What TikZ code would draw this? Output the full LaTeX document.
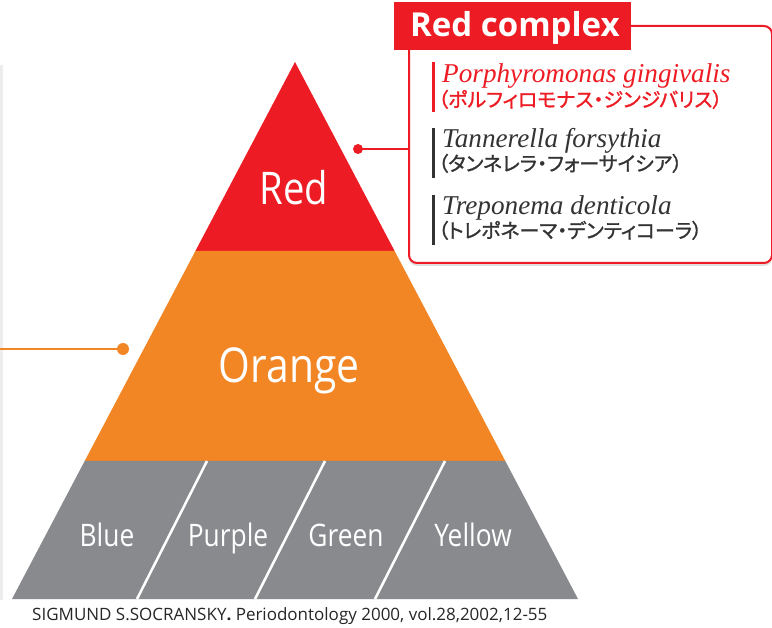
\documentclass[tikz,border=0pt]{standalone}
\usepackage{fontspec}
\setmainfont{Liberation Serif}
\newfontfamily\lab[FakeStretch=0.85]{Open Sans}
\newfontfamily\labb{Open Sans}
\newfontfamily\jp[RawFeature=+palt, FakeBold=1.2]{Noto Sans CJK JP}
\usetikzlibrary{shadows}
\definecolor{cred}{HTML}{ED1C24}
\definecolor{corange}{HTML}{F28524}
\definecolor{cgray}{HTML}{898A8E}
\definecolor{cdark}{HTML}{333333}
\tikzset{
  tierlabel/.style={text=white, inner sep=0pt, anchor=base},
  redline/.style={draw=cred, line width=2pt},
  divider/.style={draw=white, line width=2.5pt},
  species/.style={inner sep=0pt, anchor=base west, font=\fontsize{27.2}{30}\selectfont\itshape},
  kana/.style={inner sep=0pt, anchor=base west, font=\jp\fontsize{20}{22}\selectfont},
  sbar/.style={line width=3pt},
}
\begin{document}
\begin{tikzpicture}[x=1pt,y=-1pt]
\useasboundingbox (0,0) rectangle (772,628);
% faint left strip
\fill[black!7] (0,65) rectangle (3,600);
% pyramid
\fill[cred] (295,62) -- (394.6,251) -- (195.4,251) -- cycle;
\fill[corange] (195.4,251) -- (394.6,251) -- (505.3,461) -- (84.7,461) -- cycle;
\fill[cgray] (84.7,461) -- (505.3,461) -- (578,599) -- (12,599) -- cycle;
\draw[divider] (207,461) -- (137,599);
\draw[divider] (325,461) -- (255,599);
\draw[divider] (445,461) -- (375,599);
\node (tRed) [tierlabel, font=\lab\fontsize{45}{50}\selectfont] at (294,205) {Red};
\node (tOrange) [tierlabel, font=\lab\fontsize{48}{52}\selectfont] at (289,383) {Orange};
\node (tBlue) [tierlabel, font=\lab\fontsize{31}{34}\selectfont] at (107,547) {Blue};
\node (tPurple) [tierlabel, font=\lab\fontsize{31}{34}\selectfont] at (228,547) {Purple};
\node (tGreen) [tierlabel, font=\lab\fontsize{31}{34}\selectfont] at (346,547) {Green};
\node (tYellow) [tierlabel, font=\lab\fontsize{31}{34}\selectfont] at (473,547) {Yellow};
% orange connector
\coordinate (oend) at (0,349);
\node (odot) [circle, fill=corange, minimum size=12pt, inner sep=0pt] at (123,349) {};
\draw[draw=corange, line width=2pt] (oend) -- (odot.center);
% red complex box
\node (box) [draw=cred, line width=2pt, fill=white, rounded corners=8pt,
  minimum width=363pt, minimum height=237pt, anchor=north west,
  drop shadow={shadow xshift=0pt, shadow yshift=-3pt, opacity=0.25}] at (408,25) {};
\node (title) [fill=cred, minimum width=237pt, minimum height=48pt, inner sep=0pt, anchor=north west] at (394,2) {};
\node (titletext) [inner sep=0pt, anchor=base west, text=white, font=\labb\bfseries\fontsize{33}{35}\selectfont] at (410,37) {Red complex};
\node (reddot) [circle, fill=cred, minimum size=10pt, inner sep=0pt] at (358,149) {};
\draw[redline] (box.west |- reddot) -- (reddot.center);
% species
\coordinate (b1t) at (433,62); \coordinate (b1b) at (433,112);
\coordinate (b2t) at (433,128); \coordinate (b2b) at (433,178);
\coordinate (b3t) at (433,195); \coordinate (b3b) at (433,245);
\draw[sbar, cred] (b1t) -- (b1b);
\draw[sbar, cdark] (b2t) -- (b2b);
\draw[sbar, cdark] (b3t) -- (b3b);
\node (s1) [species, text=cred] at (442,83) {Porphyromonas gingivalis};
\node (k1) [kana, text=cred] at (438,107) {（ポルフィロモナス・ジンジバリス）};
\node (s2) [species, text=cdark] at (442,148) {Tannerella forsythia};
\node (k2) [kana, text=cdark] at (438,171) {（タンネレラ・フォーサイシア）};
\node (s3) [species, text=cdark] at (442,215) {Treponema denticola};
\node (k3) [kana, text=cdark] at (438,238) {（トレポネーマ・デンティコーラ）};
% footnote
\node (foot) [inner sep=0pt, anchor=base west, text=black!85, font=\labb\fontsize{17}{19}\selectfont] at (32,620) {SIGMUND S.SOCRANSKY{\bfseries.} Periodontology 2000, vol.28,2002,12-55};
\end{tikzpicture}
\end{document}
